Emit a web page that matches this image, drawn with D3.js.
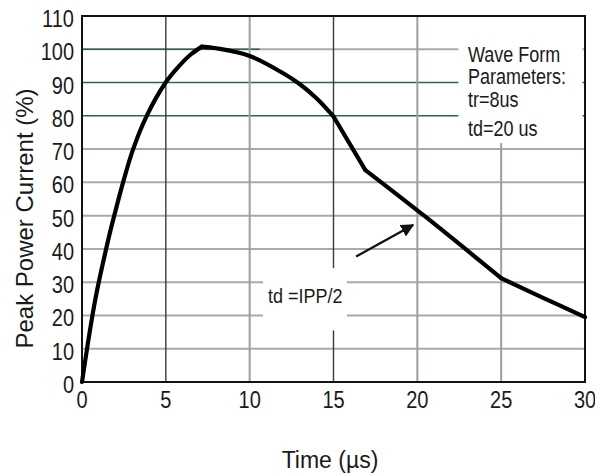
<!DOCTYPE html>
<html>
<head>
<meta charset="utf-8">
<script src="https://cdn.jsdelivr.net/npm/d3@7"></script>
<style>
  html, body { margin: 0; padding: 0; background: #fff; }
  svg { display: block; }
  text { font-family: "Liberation Sans", Arial, sans-serif; fill: #1a1a1a; }
</style>
</head>
<body>
<svg id="chart" width="595" height="474"></svg>
<script>
// ---- data ----
const timeValues = [0, 0.8, 1.67, 2.45, 3.05, 3.86, 4.99, 5.8, 6.5, 7.15, 8, 10, 12, 13, 14, 15, 16.9, 20.5, 25, 27.5, 30];
const currentValues = [0, 25, 45, 60, 70, 80, 90, 95, 98.5, 100.8, 100.3, 98.0, 92.8, 89.5, 85.2, 79.8, 63.7, 49.6, 31.2, 25.3, 19.5];
const kinkTimes = [1.67, 7.15, 15, 16.9, 25];
const xTicks = [0, 5, 10, 15, 20, 25, 30];
const yTicks = [0, 10, 20, 30, 40, 50, 60, 70, 80, 90, 100, 110];
const darkVerticals = [5, 15];
const greenHorizontals = [80, 90, 100];
const paramLines = ["Wave Form", "Parameters:", "tr=8us", "td=20 us"];
const tdLabel = "td =IPP/2";
const arrowFrom = [16.35, 37.7];
const arrowTo = [19.75, 47.2];
const xTitle = "Time (\u00b5s)";
const yTitle = "Peak Power Current (%)";

// ---- layout ----
const svg = d3.select("#chart");
const x = d3.scaleLinear().domain([0, 30]).range([82, 585]);
const y = d3.scaleLinear().domain([0, 110]).range([382, 16]);

const defs = svg.append("defs");
defs.append("marker").attr("id", "ah").attr("viewBox", "0 0 10 10")
  .attr("refX", 9).attr("refY", 5).attr("markerWidth", 6).attr("markerHeight", 6)
  .attr("markerUnits", "strokeWidth").attr("orient", "auto")
  .append("path").attr("d", "M0,0 L10,5 L0,10 z").attr("fill", "#111");

// horizontal grid
const gh = svg.append("g");
yTicks.filter(v => v > 0 && v < 110).forEach(v => {
  const green = greenHorizontals.includes(v);
  gh.append("line").attr("x1", x(0)).attr("x2", x(30)).attr("y1", y(v)).attr("y2", y(v))
    .attr("stroke", green && v !== 100 ? "#2e6252" : "#a5abab")
    .attr("stroke-width", green && v !== 100 ? 1.6 : 2);
  if (v === 100) {
    gh.append("line").attr("x1", x(0)).attr("x2", x(10.6)).attr("y1", y(v)).attr("y2", y(v))
      .attr("stroke", "#2e6252").attr("stroke-width", 1.6);
  }
});
// vertical grid
const gv = svg.append("g");
xTicks.filter(v => v > 0 && v < 30).forEach(v => {
  const dark = darkVerticals.includes(v);
  gv.append("line").attr("x1", x(v)).attr("x2", x(v)).attr("y1", y(0)).attr("y2", y(110))
    .attr("stroke", dark ? "#3a3a3a" : "#9c9f9f").attr("stroke-width", dark ? 1.4 : 2);
});

// white label boxes that break the grid
svg.append("rect").attr("x", x(22.45)).attr("y", y(110) + 1)
  .attr("width", x(29.85) - x(22.45)).attr("height", y(71.8) - y(110) - 1).attr("fill", "#fff");
svg.append("rect").attr("x", x(10.8)).attr("y", y(34.2))
  .attr("width", x(15.8) - x(10.8)).attr("height", y(15.5) - y(34.2)).attr("fill", "#fff");

// frame
svg.append("rect").attr("x", x(0)).attr("y", y(110)).attr("width", x(30) - x(0)).attr("height", y(0) - y(110))
  .attr("fill", "none").attr("stroke", "#111").attr("stroke-width", 2);

// curve: smooth pieces joined at kinks
const pts = timeValues.map((t, i) => [t, currentValues[i]]);
const bounds = [0, ...kinkTimes, 30];
const line = d3.line().x(d => x(d[0])).y(d => y(d[1])).curve(d3.curveCatmullRom.alpha(0.5));
const gc = svg.append("g");
for (let k = 0; k < bounds.length - 1; k++) {
  const seg = pts.filter(p => p[0] >= bounds[k] && p[0] <= bounds[k + 1]);
  gc.append("path").attr("d", line(seg)).attr("fill", "none").attr("stroke", "#000")
    .attr("stroke-width", 4.2).attr("stroke-linejoin", "round").attr("stroke-linecap", "round");
}

// arrow
svg.append("line").attr("x1", x(arrowFrom[0])).attr("y1", y(arrowFrom[1]))
  .attr("x2", x(arrowTo[0])).attr("y2", y(arrowTo[1]))
  .attr("stroke", "#111").attr("stroke-width", 2.2).attr("marker-end", "url(#ah)");

// tick labels
svg.append("g").selectAll("text").data(xTicks).join("text")
  .attr("transform", d => `translate(${x(d)},408) scale(1,1.15)`)
  .attr("text-anchor", "middle").attr("font-size", 20).text(d => d);
svg.append("g").selectAll("text").data(yTicks).join("text")
  .attr("transform", d => `translate(74,${y(d) + 11}) scale(1,1.15)`)
  .attr("text-anchor", "end").attr("font-size", 20).text(d => d);

// titles
svg.append("text").attr("x", 330).attr("y", 468).attr("text-anchor", "middle")
  .attr("font-size", 23).text(xTitle);
svg.append("text").attr("transform", "translate(33,218.5) rotate(-90)")
  .attr("text-anchor", "middle").attr("font-size", 24).text(yTitle);

// annotations
const paramBaselines = [62, 84, 107, 136];
svg.append("g").selectAll("text").data(paramLines).join("text")
  .attr("transform", (d, i) => `translate(468,${paramBaselines[i]}) scale(1,1.2)`)
  .attr("font-size", 18).text(d => d);
svg.append("text").attr("transform", "translate(268,303) scale(1,1.1)")
  .attr("font-size", 18).text(tdLabel);
</script>
</body>
</html>
